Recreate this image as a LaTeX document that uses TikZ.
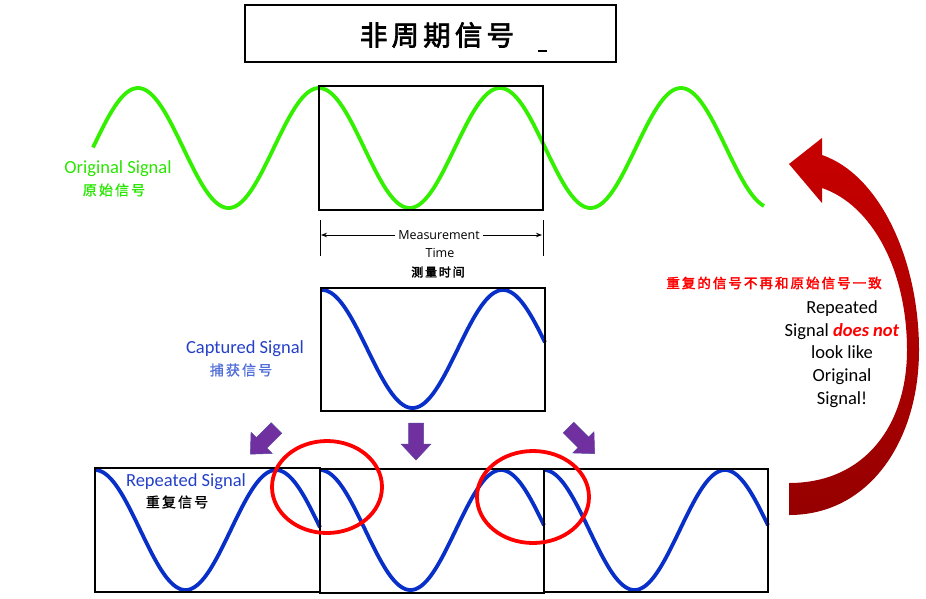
\documentclass[tikz,border=0pt]{standalone}
\usepackage{fontspec}
\setmainfont{Carlito}
\newfontfamily\cjk[LetterSpace=15, FakeBold=1.2]{Noto Sans CJK SC}
\newfontfamily\cjkb[LetterSpace=15, FakeBold=2.5]{Noto Sans CJK SC}
\newfontfamily\msfont{Open Sans}
\usetikzlibrary{arrows.meta,shapes.geometric}
\definecolor{sgreen}{RGB}{50,240,0}
\definecolor{tgreen}{RGB}{40,230,0}
\definecolor{sblue}{RGB}{8,48,200}
\definecolor{lblue}{RGB}{36,64,200}
\definecolor{cblue}{RGB}{80,110,215}
\definecolor{purp}{RGB}{112,48,160}
\definecolor{purpedge}{RGB}{90,70,160}
\definecolor{redtop}{RGB}{200,0,0}
\definecolor{redbot}{RGB}{150,0,0}
\tikzset{
  frame/.style={draw=black, line width=1.1pt, inner sep=0pt},
  greenwave/.style={draw=sgreen, line width=3.8pt},
  bluewave/.style={draw=sblue, line width=3.8pt},
  redring/.style={draw=red, line width=3.8pt},
  lbl/.style={font=\fontsize{18.5}{20}\selectfont, inner sep=0pt},
  zh/.style={font=\cjk\fontsize{14}{16}\selectfont, inner sep=0pt},
  purarrow/.pic={\filldraw[fill=purp, draw=purpedge, line width=0.5pt]
     (0,-7.5) -- (21,-7.5) -- (21,-15) -- (37,0) -- (21,15) -- (21,7.5) -- (0,7.5) -- cycle;}
}
\begin{document}
\begin{tikzpicture}[x=1pt,y=1pt]
\useasboundingbox (0,0) rectangle (926,-598);

% title
\node[frame, minimum width=371, minimum height=57] (title) at (430.5,-33.5) {};
\node[font=\cjkb\fontsize{27.5}{30}\selectfont, inner sep=0pt] (titletext) at (437,-35) {非周期信号};
\coordinate (dashA) at (538,-51);
\coordinate (dashB) at (547,-51);
\draw[line width=1.3pt] (dashA) -- (dashB);

% original signal
\draw[greenwave] plot[domain=93:764, samples=300, smooth] (\x, {-(148 - 60*cos(1.98895*(\x-138)))});
\node[frame, minimum width=224, minimum height=124] (mbox) at (431,-148) {};
\node[lbl, text=tgreen] (orig) at (118,-169) {Original Signal};
\node[zh, text=tgreen] (origzh) at (114,-190) {原始信号};

% measurement time
\coordinate (tl1) at (320,-220);
\coordinate (tl2) at (320,-256);
\coordinate (tr1) at (543,-220);
\coordinate (tr2) at (543,-256);
\draw[line width=0.8pt] (tl1) -- (tl2);
\draw[line width=0.8pt] (tr1) -- (tr2);
\coordinate (al) at (321,-235);
\coordinate (ar) at (542,-235);
\draw[line width=0.8pt, {Stealth[length=6pt,width=4.5pt]}-{Stealth[length=6pt,width=4.5pt]}] (al) -- (ar);
\node[fill=white, inner xsep=3pt, inner ysep=1pt, font=\msfont\fontsize{12.5}{14}\selectfont] (meas) at (439,-235) {Measurement};
\node[inner sep=0pt, font=\msfont\fontsize{12.5}{14}\selectfont] (time) at (440,-253) {Time};
\node[font=\cjkb\fontsize{12}{14}\selectfont, inner sep=0pt] (measzh) at (438,-272) {测量时间};

% captured signal
\draw[bluewave] plot[domain=322:545, samples=200, smooth] (\x, {-(349 - 59*cos(1.98895*(\x-322)))});
\node[frame, minimum width=224, minimum height=123] (cbox) at (433,-349.5) {};
\node[lbl, text=lblue] (capt) at (245,-349) {Captured Signal};
\node[zh, text=cblue] (captzh) at (241,-370) {捕获信号};

% purple arrows
\pic[rotate=225] at (276.5,-428) {purarrow};
\pic[rotate=-90] at (416,-423) {purarrow};
\pic[rotate=-45] at (568.5,-427.5) {purarrow};

% repeated signals
\draw[bluewave] plot[domain=95:320, samples=200, smooth] (\x, {-(530 - 60*cos(1.98895*(\x-95)))});
\draw[bluewave] plot[domain=320:544, samples=200, smooth] (\x, {-(530 - 60*cos(1.98895*(\x-320)))});
\draw[bluewave] plot[domain=544:768, samples=200, smooth] (\x, {-(530 - 60*cos(1.98895*(\x-544)))});
\node[frame, minimum width=225, minimum height=124] (rbox1) at (207.5,-530) {};
\node[frame, minimum width=224, minimum height=124] (rbox2) at (432,-531) {};
\node[frame, minimum width=224, minimum height=123] (rbox3) at (656,-530.5) {};
\node[lbl, text=lblue] (rep) at (186,-482) {Repeated Signal};
\node[zh, text=black] (repzh) at (177,-502) {重复信号};

% red rings
\node[redring, ellipse, minimum width=110, minimum height=92, inner sep=0pt] (ring1) at (327,-487) {};
\node[redring, ellipse, minimum width=112, minimum height=92, inner sep=0pt] (ring2) at (533,-497) {};

% big red curved arrow
\shade[top color=redtop, bottom color=redbot]
  (822,-155) .. controls (880,-175) and (919,-260) .. (919,-350)
  .. controls (919,-440) and (870,-515) .. (789,-515)
  -- (789,-483)
  .. controls (865,-483) and (907,-425) .. (907,-350)
  .. controls (907,-270) and (872,-205) .. (822,-188)
  -- (822,-203) -- (789,-164) -- (822,-138) -- cycle;

% texts on the right
\node[font=\cjkb\fontsize{13.5}{15}\selectfont, text=red, inner sep=0pt] (redzh) at (774,-283) {重复的信号不再和原始信号一致};
\node[font=\fontsize{18.5}{22.6}\selectfont, align=center, inner sep=0pt] (msg) at (842,-354)
  {Repeated\\Signal \textcolor{red}{\textbf{\textit{does not}}}\\look like\\Original\\Signal!};
\end{tikzpicture}
\end{document}
